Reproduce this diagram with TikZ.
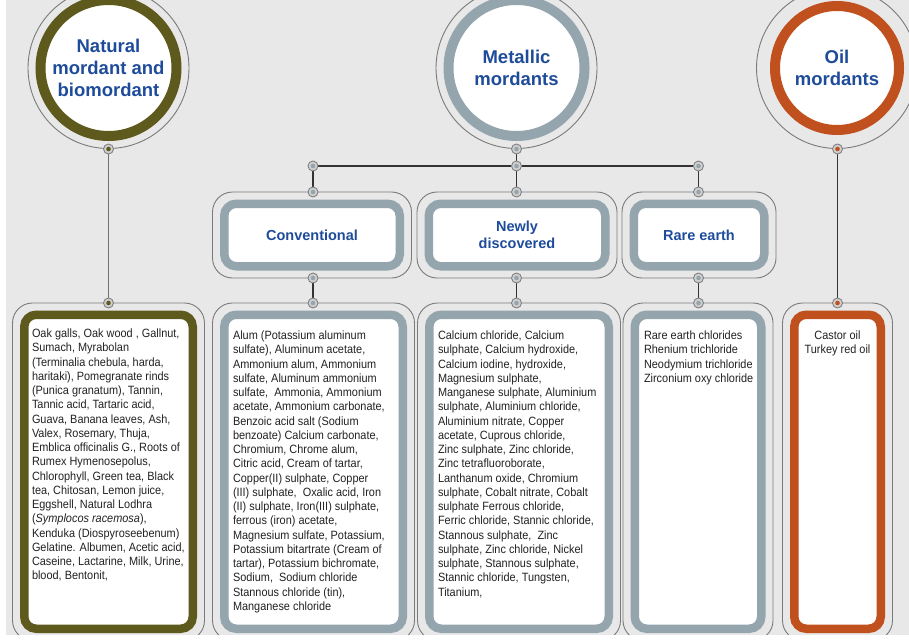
\documentclass[tikz,border=0pt]{standalone}
\usepackage{fontspec}
\setmainfont{Liberation Sans}
\newfontfamily\bodyfont[FakeStretch=0.91]{Liberation Sans}
\usetikzlibrary{calc}
\definecolor{bggray}{HTML}{E8E8E8}
\definecolor{olive}{HTML}{5E5A1E}
\definecolor{steel}{HTML}{95A5AE}
\definecolor{rust}{HTML}{C0501E}
\definecolor{titleblue}{HTML}{1E4C9A}
\definecolor{bodygray}{HTML}{222222}
\definecolor{halogray}{HTML}{7A7A7A}
\definecolor{dotfill}{HTML}{CFCFCF}
\definecolor{dotring}{HTML}{808080}
\definecolor{linkdark}{HTML}{333333}
\definecolor{linkgray}{HTML}{707070}
\pgfdeclarelayer{back}
\pgfdeclarelayer{wires}
\pgfsetlayers{back,wires,main}
\tikzset{
  ring/.style={circle, draw=#1, line width=10pt, fill=white, inner sep=0pt, outer sep=0pt,
    align=center, text=titleblue, font=\bfseries\fontsize{18.5}{22}\selectfont},
  halo/.style={draw=halogray, line width=0.9pt},
  frame/.style={rectangle, draw=#1, line width=8.5pt, fill=white, rounded corners=12pt,
    inner sep=0pt, outer sep=0pt, align=center, text=titleblue,
    font=\bfseries\fontsize{14.5}{17}\selectfont},
  bodytxt/.style={inner sep=0pt, outer sep=0pt, align=left, anchor=north west, text=bodygray,
    font=\bodyfont\fontsize{12}{14.25}\selectfont},
  jdot/.style={circle, draw=dotring, fill=dotfill, line width=0.9pt, minimum size=10pt,
    inner sep=0pt, path picture={\fill[#1] (path picture bounding box.center) circle (2.3pt);}},
  link/.style={draw=linkdark, line width=1.8pt},
  thinlink/.style={draw=linkgray, line width=1.1pt},
}
\begin{document}
\begin{tikzpicture}[x=1pt,y=-1pt]
\useasboundingbox (0,0) rectangle (909,639);
\begin{pgfonlayer}{back}
  \fill[white] (0,0) rectangle (909,639);
  \fill[bggray] (6,0) rectangle (909,634.5);
\end{pgfonlayer}
\begin{scope}
\clip (6,0) rectangle (909,634.5);
% ---- top circles
\node[ring=olive, minimum size=136pt] (nat) at (108.5,68) {Natural\\mordant and\\biomordant};
\node[ring=steel, minimum size=136pt] (met) at (516.5,68) {Metallic\\mordants};
\node[ring=rust, minimum size=124pt] (oil) at (837,68) {Oil\\mordants};
\draw[halo] (nat.center) circle (80.5pt);
\draw[halo] (met.center) circle (80.5pt);
\draw[halo] (oil.center) circle (80.5pt);
% ---- middle row
\node[frame=steel, minimum width=175.5pt, minimum height=62.5pt] (conv) at (312,235) {Conventional};
\node[frame=steel, minimum width=176.5pt, minimum height=62.5pt] (newd) at (517,235) {Newly\\discovered};
\node[frame=steel, minimum width=130.5pt, minimum height=62.5pt] (rare) at (699,235) {Rare earth};
% ---- bottom row
\node[frame=olive, minimum width=168.5pt, minimum height=314pt] (natb) at (108.5,471.75) {};
\node[frame=steel, minimum width=178.5pt, minimum height=314pt] (convb) at (313.5,471.75) {};
\node[frame=steel, minimum width=179.5pt, minimum height=314pt] (newb) at (519,471.75) {};
\node[frame=steel, minimum width=126.5pt, minimum height=314pt] (rareb) at (698,471.75) {};
\node[frame=rust, minimum width=86.5pt, minimum height=314pt] (oilb) at (837.5,471.75) {};
\foreach \b in {conv,newd,rare,natb,convb,newb,rareb,oilb}{
  \draw[halo, rounded corners=20pt] ($(\b.north west)+(-11.75,-11.75)$) rectangle ($(\b.south east)+(11.75,11.75)$);
}
% ---- texts
\node[bodytxt] (natt) at (32,329) {Oak galls, Oak wood , Gallnut,\\
Sumach, Myrabolan\\
(Terminalia chebula, harda,\\
haritaki), Pomegranate rinds\\
(Punica granatum), Tannin,\\
Tannic acid, Tartaric acid,\\
Guava, Banana leaves, Ash,\\
Valex, Rosemary, Thuja,\\
Emblica officinalis G., Roots of\\
Rumex Hymenosepolus,\\
Chlorophyll, Green tea, Black\\
tea, Chitosan, Lemon juice,\\
Eggshell, Natural Lodhra\\
(\textit{Symplocos racemosa}),\\
Kenduka (Diospyroseebenum)\\
Gelatine. Albumen, Acetic acid,\\
Caseine, Lactarine, Milk, Urine,\\
blood, Bentonit,};
\node[bodytxt] (convt) at (233,331) {Alum (Potassium aluminum\\
sulfate), Aluminum acetate,\\
Ammonium alum, Ammonium\\
sulfate, Aluminum ammonium\\
sulfate,\ \ Ammonia, Ammonium\\
acetate, Ammonium carbonate,\\
Benzoic acid salt (Sodium\\
benzoate) Calcium carbonate,\\
Chromium, Chrome alum,\\
Citric acid, Cream of tartar,\\
Copper(II) sulphate, Copper\\
(III) sulphate,\ \ Oxalic acid, Iron\\
(II) sulphate, Iron(III) sulphate,\\
ferrous (iron) acetate,\\
Magnesium sulfate, Potassium,\\
Potassium bitartrate (Cream of\\
tartar), Potassium bichromate,\\
Sodium,\ \ Sodium chloride\\
Stannous chloride (tin),\\
Manganese chloride};
\node[bodytxt] (newt) at (438,331) {Calcium chloride, Calcium\\
sulphate, Calcium hydroxide,\\
Calcium iodine, hydroxide,\\
Magnesium sulphate,\\
Manganese sulphate, Aluminium\\
sulphate, Aluminium chloride,\\
Aluminium nitrate, Copper\\
acetate, Cuprous chloride,\\
Zinc sulphate, Zinc chloride,\\
Zinc tetrafluoroborate,\\
Lanthanum oxide, Chromium\\
sulphate, Cobalt nitrate, Cobalt\\
sulphate Ferrous chloride,\\
Ferric chloride, Stannic chloride,\\
Stannous sulphate,\ \ Zinc\\
sulphate, Zinc chloride, Nickel\\
sulphate, Stannous sulphate,\\
Stannic chloride, Tungsten,\\
Titanium,};
\node[bodytxt] (raret) at (644,331) {Rare earth chlorides\\
Rhenium trichloride\\
Neodymium trichloride\\
Zirconium oxy chloride};
\node[bodytxt, anchor=north, align=center] (oilt) at (837.5,331) {Castor oil\\Turkey red oil};
% ---- dots
\node[jdot=olive] (n0) at (108.5,149) {};
\node[jdot=olive] (n1) at (108.5,303) {};
\node[jdot=rust] (o0) at (837.5,149) {};
\node[jdot=rust] (o1) at (837.5,303) {};
\node[jdot=steel] (m0) at (516.5,149) {};
\node[jdot=steel] (m1) at (516.5,166) {};
\node[jdot=steel] (bl) at (313,166) {};
\node[jdot=steel] (br) at (698.5,166) {};
\node[jdot=steel] (c1) at (313,192) {};
\node[jdot=steel] (c2) at (516.5,192) {};
\node[jdot=steel] (c3) at (698.5,192) {};
\node[jdot=steel] (d1) at (313,278) {};
\node[jdot=steel] (d2) at (516.5,278) {};
\node[jdot=steel] (d3) at (698.5,278) {};
\node[jdot=steel] (e1) at (313,303) {};
\node[jdot=steel] (e2) at (516.5,303) {};
\node[jdot=steel] (e3) at (698.5,303) {};
\end{scope}
% ---- connectors
\begin{pgfonlayer}{wires}
\draw[thinlink] (n0) -- (n1);
\draw[link] (o0) -- (o1);
\draw[link] (m0) -- (m1);
\draw[link] (bl) -- (m1) -- (br);
\draw[link] (bl) -- (c1);
\draw[link] (m1) -- (c2);
\draw[link] (br) -- (c3);
\draw[link] (d1) -- (e1);
\draw[link] (d2) -- (e2);
\draw[link] (d3) -- (e3);
\end{pgfonlayer}
\end{tikzpicture}
\end{document}
